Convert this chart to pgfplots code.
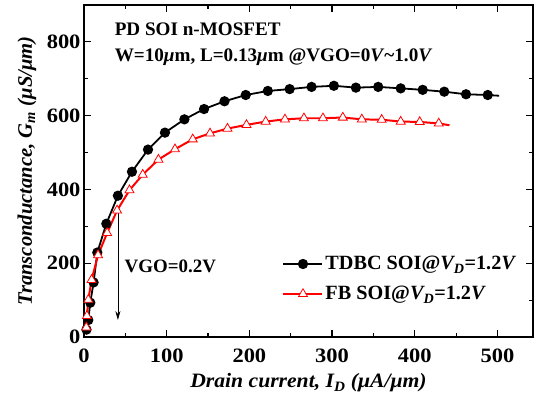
\documentclass[border=0pt]{standalone}
\usepackage{fontspec}
\setmainfont{Liberation Serif}
\newfontfamily\tickfont[FakeStretch=1.1]{Liberation Serif}
\newfontfamily\labfont[FakeStretch=1.06]{Liberation Serif}
\usepackage{pgfplots}
\pgfplotsset{compat=1.18}
\usetikzlibrary{arrows.meta}
\newcommand{\fs}{\fontsize{19}{22}\selectfont}
\begin{document}
\begin{tikzpicture}
\useasboundingbox (-84bp,-56bp) rectangle (453bp,337bp);
\begin{axis}[at={(0,0)},anchor=south west,scale only axis,width=449bp,height=332bp,
  xmin=0,xmax=543,ymin=0,ymax=900,
  xtick={0,100,...,500}, minor xtick={50,150,...,550},
  ytick={0,200,...,800}, minor ytick={100,300,...,900},
  tick align=inside, major tick length=7bp, minor tick length=4bp,
  every tick/.style={line width=1.2pt,black},
  axis line style={line width=1.6pt},
  /pgf/number format/assume math mode=true,
  ticklabel style={font=\tickfont\bfseries\fontsize{20.5}{22}\selectfont},
  xticklabel style={yshift=-8bp},
  xlabel={\textbf{\textit{Drain current, I\textsubscript{D} (μA/μm)}}},
  ylabel={\textbf{\textit{Transconductance, G\textsubscript{m} (μS/μm)}}},
  xlabel style={font=\labfont\fontsize{20.5}{22}\selectfont,at={(rel axis cs:0.5,0)},yshift=-46bp,anchor=center},
  ylabel style={font=\fontsize{20.7}{22}\selectfont,at={(rel axis cs:0,0.5)},yshift=57bp,anchor=center},
  legend style={at={(rel axis cs:0.435,0.255)},anchor=north west,draw=none,fill=none,
    font=\fontsize{20.3}{23}\selectfont\bfseries,row sep=11bp,/tikz/every even column/.append style={column sep=4bp}},
  legend cell align=left,
  legend image code/.code={\draw[#1,mark repeat=2,mark phase=2] plot coordinates {(0bp,0bp) (19.5bp,0bp) (39bp,0bp)};},
]
\addplot[black,line width=1.8pt,forget plot] coordinates {(488.3,656)(502,654)};
\addplot[black,line width=1.8pt,mark=*,mark size=4.2bp,mark options={solid,fill=black}] coordinates {
(3,20)(5.2,46)(7.6,93)(11.6,148)(16.1,229)(27,307)(41,383)(58,448)(77.4,508)(97.9,554)
(121.4,590)(145.2,618)(169.9,639)(195.6,656)(222.3,667)(248.7,672)(275.2,678)(302.2,681)
(328.8,676)(355.8,678)(383,674)(409.6,670)(435.7,665)(462,658)(488.3,656)};
\addlegendentry{TDBC SOI@\textit{V\textsubscript{D}}=1.2\textit{V}}
\addplot[red,line width=2pt,forget plot] coordinates {(429,579)(442,574)};
\addplot[red,line width=2pt,mark=triangle*,mark size=5.2bp,mark options={solid,fill=white,draw=red,line width=0.8pt}] coordinates {
(2.8,26)(3.5,57)(5.2,101)(9.2,155)(17,222)(28,282)(40,343)(55,398)(71,440)(90,481)
(110,509)(131.5,536)(152.4,552)(173.5,565)(196.5,575)(219.7,584)(243,590)(266,593)
(289,593)(313,595)(336,590)(360,589)(383,584)(406,583)(429,579)};
\addlegendentry{FB SOI@\textit{V\textsubscript{D}}=1.2\textit{V}}
\node[anchor=base west,font=\fontsize{19.2}{22}\selectfont\bfseries] at (axis cs:33,816) {PD SOI n-MOSFET};
\node[anchor=base west,font=\fontsize{19.2}{22}\selectfont\bfseries] at (axis cs:33,746) {W=10\textit{μ}m, L=0.13\textit{μ}m @VGO=0\textit{V}\textasciitilde1.0\textit{V}};
\node[anchor=base west,font=\fs\bfseries] at (axis cs:45,175) {VGO=0.2V};
\draw[line width=0.7pt,-{Stealth[length=9bp,width=5bp]}] (axis cs:41,335) -- (axis cs:41,46);
\end{axis}
\end{tikzpicture}
\end{document}
